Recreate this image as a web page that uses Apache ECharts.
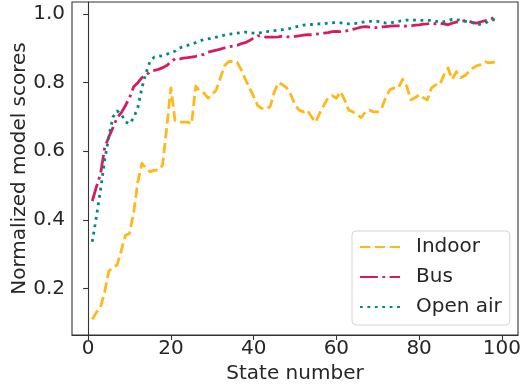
<!DOCTYPE html>
<html>
<head>
<meta charset="utf-8">
<script src="https://cdn.jsdelivr.net/npm/echarts@6/dist/echarts.min.js"></script>
<style>
html,body{margin:0;padding:0;background:#fff;}
#chart{width:522px;height:387px;}
</style>
</head>
<body>
<div id="chart"></div>
<script>
const states = Array.from({length: 99}, (_, i) => i + 1);
const indoor = [0.11,0.13,0.145,0.19,0.25,0.262,0.268,0.31,0.354,0.36,
  0.42,0.51,0.565,0.55,0.54,0.545,0.545,0.56,0.67,0.785,
  0.69,0.685,0.685,0.685,0.68,0.79,0.775,0.77,0.755,0.765,
  0.78,0.815,0.85,0.862,0.862,0.86,0.838,0.81,0.785,0.76,
  0.733,0.725,0.723,0.73,0.774,0.80,0.794,0.785,0.765,0.735,
  0.72,0.715,0.72,0.70,0.685,0.712,0.735,0.756,0.762,0.755,
  0.774,0.75,0.72,0.715,0.707,0.698,0.715,0.72,0.715,0.715,
  0.727,0.76,0.78,0.785,0.785,0.81,0.79,0.75,0.756,0.765,
  0.756,0.75,0.785,0.794,0.794,0.823,0.843,0.81,0.832,0.815,
  0.82,0.832,0.843,0.85,0.853,0.861,0.858,0.86,0.847];
const bus = [0.455,0.496,0.534,0.61,0.642,0.669,0.698,0.712,0.733,0.756,
  0.788,0.80,0.815,0.823,0.832,0.836,0.839,0.844,0.85,0.861,
  0.87,0.869,0.872,0.873,0.875,0.877,0.880,0.883,0.889,0.892,
  0.895,0.898,0.902,0.905,0.907,0.909,0.914,0.917,0.923,0.931,
  0.937,0.936,0.933,0.933,0.933,0.934,0.936,0.934,0.934,0.935,
  0.937,0.939,0.940,0.940,0.942,0.943,0.945,0.946,0.949,0.950,
  0.949,0.950,0.953,0.956,0.959,0.962,0.964,0.962,0.961,0.961,
  0.963,0.964,0.965,0.966,0.966,0.966,0.965,0.966,0.968,0.969,
  0.971,0.972,0.974,0.972,0.974,0.972,0.969,0.974,0.977,0.979,
  0.981,0.980,0.975,0.974,0.978,0.981,0.984,0.990,0.994];
const openAir = [0.336,0.409,0.488,0.575,0.642,0.70,0.718,0.709,0.686,0.68,
  0.698,0.727,0.785,0.829,0.864,0.875,0.877,0.879,0.883,0.888,
  0.892,0.901,0.906,0.909,0.913,0.917,0.922,0.926,0.928,0.930,
  0.933,0.936,0.939,0.942,0.943,0.945,0.946,0.948,0.946,0.945,
  0.945,0.946,0.949,0.950,0.952,0.954,0.955,0.956,0.959,0.963,
  0.965,0.968,0.969,0.970,0.971,0.972,0.972,0.974,0.975,0.976,
  0.975,0.973,0.972,0.972,0.974,0.976,0.978,0.979,0.979,0.979,
  0.976,0.974,0.974,0.977,0.979,0.981,0.983,0.983,0.983,0.982,
  0.982,0.982,0.982,0.980,0.976,0.978,0.981,0.985,0.985,0.981,
  0.979,0.979,0.975,0.969,0.971,0.974,0.981,0.984,0.982];
const xTicks = [0, 20, 40, 60, 80, 100];
const yTicks = [0.2, 0.4, 0.6, 0.8, 1.0];
const seriesNames = ['Indoor', 'Bus', 'Open air'];

const pair = arr => states.map((s, i) => [s, arr[i]]);
const txt = '#262626';
const font = 'DejaVu Sans';
const lw = 2.8;

const chart = echarts.init(document.getElementById('chart'), null, {renderer: 'canvas'});
chart.setOption({
  animation: false,
  backgroundColor: '#fff',
  textStyle: {fontFamily: font},
  grid: {left: 72, right: 4, top: 2, bottom: 52, containLabel: false, outerBoundsMode: 'none',
    show: true, borderColor: '#333', borderWidth: 1.1, backgroundColor: 'transparent'},
  xAxis: {
    type: 'value', min: -3.9, max: 103.9,
    name: 'State number', nameLocation: 'middle', nameGap: 29, nameMoveOverlap: false,
    nameTextStyle: {fontSize: 20, color: txt, fontFamily: font},
    axisLine: {show: true, lineStyle: {color: '#333', width: 1.1}},
    axisTick: {show: true, length: 5, customValues: xTicks, lineStyle: {color: '#333', width: 1.1}},
    axisLabel: {customValues: xTicks, fontSize: 20, color: txt, fontFamily: font, margin: 4},
    splitLine: {show: false}
  },
  yAxis: {
    type: 'value', min: 0.064, max: 1.0356,
    name: 'Normalized model scores', nameLocation: 'middle', nameGap: 42, nameRotate: 90,
    nameMoveOverlap: false,
    nameTextStyle: {fontSize: 20, color: txt, fontFamily: font},
    axisLine: {show: true, lineStyle: {color: '#333', width: 1.1}},
    axisTick: {show: true, length: 5, customValues: yTicks, lineStyle: {color: '#333', width: 1.1}},
    axisLabel: {customValues: yTicks, fontSize: 20, color: txt, fontFamily: font, margin: 7,
      formatter: v => v.toFixed(1)},
    splitLine: {show: false}
  },
  legend: {
    orient: 'vertical', left: 352, top: 231,
    data: seriesNames,
    itemWidth: 40, itemHeight: 14, itemGap: 10,
    padding: [6, 8, 8, 7],
    backgroundColor: '#fff',
    borderColor: '#d5d5d5', borderWidth: 1, borderRadius: 4,
    itemStyle: {opacity: 0},
    textStyle: {fontSize: 20, color: txt, fontFamily: font, padding: [0, 0, 0, 11]}
  },
  series: [
    {name: seriesNames[0], type: 'line', data: pair(indoor), showSymbol: false, symbol: 'none',
     color: '#FFB81C', lineStyle: {color: '#FFB81C', width: lw, type: [3.7*lw, 1.6*lw], cap: 'butt', join: 'round'}},
    {name: seriesNames[1], type: 'line', data: pair(bus), showSymbol: false, symbol: 'none',
     color: '#D81B60', lineStyle: {color: '#D81B60', width: lw, type: [6.4*lw, 1.6*lw, 1*lw, 1.6*lw], cap: 'butt', join: 'round'}},
    {name: seriesNames[2], type: 'line', data: pair(openAir), showSymbol: false, symbol: 'none',
     color: '#00897B', lineStyle: {color: '#00897B', width: lw, type: [1*lw, 1.65*lw], cap: 'butt', join: 'round'}}
  ]
});
</script>
</body>
</html>
